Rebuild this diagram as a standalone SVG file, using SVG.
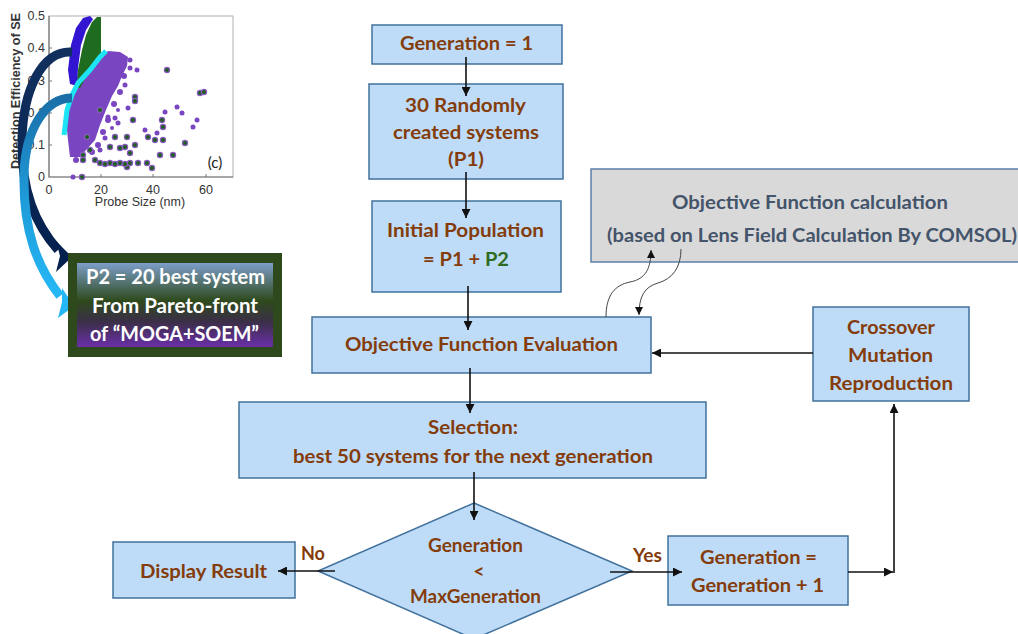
<svg xmlns="http://www.w3.org/2000/svg" width="1018" height="634" viewBox="0 0 1018 634">
<defs>
<style>
.box{fill:#bedcf7;stroke:#41719c;stroke-width:1.5}
.t{font-family:Lato,"Open Sans",sans-serif;font-weight:bold;font-size:19.5px;fill:#843c0c;text-anchor:middle}
.g{font-family:Lato,"Open Sans",sans-serif;font-weight:bold;font-size:18.5px;fill:#44546a;text-anchor:middle}
.w{font-family:Lato,"Open Sans",sans-serif;font-weight:bold;font-size:20px;fill:#ffffff;text-anchor:middle}
.ax{font-family:"Liberation Sans",Arial,sans-serif;font-size:12.5px;fill:#333}
.c{fill:none;stroke:#111;stroke-width:1.6}
.cc{fill:none;stroke:#444;stroke-width:1}
.dg{fill:#1e5e1e;stroke:#8a5cc0;stroke-width:1.2}
.pp{fill:#7a45c0}
</style>
<marker id="ah" viewBox="0 0 10 10" refX="10" refY="5" markerWidth="10" markerHeight="9" markerUnits="userSpaceOnUse" orient="auto"><path d="M0,0 L10,5 L0,10 z" fill="#111"/></marker>
<marker id="ahs" viewBox="0 0 10 10" refX="10" refY="5" markerWidth="8" markerHeight="8" markerUnits="userSpaceOnUse" orient="auto"><path d="M0,0 L10,5 L0,10 z" fill="#111"/></marker>
<linearGradient id="p2g" x1="0" y1="0" x2="0" y2="1">
<stop offset="0" stop-color="#7d9ec9"/><stop offset="0.45" stop-color="#2e4a1c"/><stop offset="0.7" stop-color="#3b2f48"/><stop offset="1" stop-color="#6a2fa8"/>
</linearGradient>
<linearGradient id="lbg" x1="0" y1="0" x2="0" y2="1">
<stop offset="0" stop-color="#1b6fa8"/><stop offset="0.5" stop-color="#1e9ad8"/><stop offset="1" stop-color="#26b8f6"/>
</linearGradient>
<linearGradient id="dbg" x1="0" y1="0" x2="0" y2="1">
<stop offset="0" stop-color="#12305e"/><stop offset="1" stop-color="#04204e"/>
</linearGradient>
</defs>

<g id="plot">
<rect x="49" y="16" width="184" height="161" fill="#fff" stroke="#b0b0b0" stroke-width="1"/>
<path d="M49,16 V177 H233" fill="none" stroke="#777" stroke-width="1.2"/>
<path d="M49,48 h3 M49,81 h3 M49,113 h3 M49,145 h3 M101,177 v-3 M153,177 v-3 M206,177 v-3" stroke="#777" stroke-width="1"/>
<polygon class="pp" points="68,140 66,120 71,97 84,80 99,60 108,51 120,52 128,57 127,66 122,76 118,86 112,96 106,110 100,125 95,140 86,150 80,157 70,157"/>
<g class="pp">
<circle cx="137" cy="70" r="2.5"/><circle cx="165" cy="112" r="2.5"/><circle cx="177" cy="107" r="2.5"/><circle cx="182" cy="113" r="2.5"/><circle cx="193" cy="127" r="2.5"/><circle cx="197" cy="120" r="2.5"/><circle cx="157" cy="133" r="2.5"/><circle cx="145" cy="130" r="2.5"/><circle cx="73" cy="177" r="2.5"/><circle cx="108" cy="117" r="2.5"/><circle cx="118" cy="123" r="2.5"/><circle cx="128" cy="108" r="2.5"/><circle cx="130" cy="68" r="2.5"/><circle cx="125" cy="85" r="2.5"/><circle cx="112" cy="128" r="2"/>
<circle cx="124" cy="76" r="3"/><circle cx="120" cy="92" r="3"/><circle cx="114" cy="104" r="3"/><circle cx="108" cy="120" r="3"/><circle cx="103" cy="132" r="3"/><circle cx="98" cy="145" r="3"/><circle cx="92" cy="152" r="3"/><circle cx="76" cy="160" r="3"/><circle cx="130" cy="60" r="2.5"/><circle cx="115" cy="118" r="2.5"/><circle cx="105" cy="138" r="2.5"/><circle cx="118" cy="110" r="2"/><circle cx="100" cy="150" r="2.5"/>
</g>
<polygon fill="#1f6b1f" points="76,88 78,70 82,50 86,35 92,22 97,17 101,17 101,53 90,70 80,88"/>
<polygon fill="#3115d0" points="70,84 68,70 71,45 76,28 83,18 90,16 93,19 86,30 81,45 78,68 77,86"/>
<polyline points="64,135 67,110 72,95 78,83 90,70 100,57 106,51" fill="none" stroke="#1de4f2" stroke-width="5" stroke-linejoin="round"/>
<g class="dg">
<circle cx="135" cy="97" r="2.6"/><circle cx="135" cy="101" r="2.6"/><circle cx="133" cy="120" r="2.6"/><circle cx="115" cy="137" r="2.6"/><circle cx="127" cy="137" r="2.6"/><circle cx="100" cy="110" r="2.6"/><circle cx="87" cy="137" r="2.6"/><circle cx="83" cy="155" r="2.6"/><circle cx="83" cy="160" r="2.6"/><circle cx="90" cy="150" r="2.6"/><circle cx="110" cy="147" r="2.6"/><circle cx="120" cy="148" r="2.6"/><circle cx="125" cy="147" r="2.6"/><circle cx="130" cy="153" r="2.6"/><circle cx="135" cy="145" r="2.6"/><circle cx="127" cy="167" r="2.6"/><circle cx="100" cy="163" r="2.6"/><circle cx="105" cy="164" r="2.6"/><circle cx="110" cy="163" r="2.6"/><circle cx="115" cy="164" r="2.6"/><circle cx="120" cy="163" r="2.6"/><circle cx="125" cy="164" r="2.6"/><circle cx="130" cy="163" r="2.6"/><circle cx="138" cy="163" r="2.6"/><circle cx="147" cy="163" r="2.6"/><circle cx="152" cy="168" r="2.6"/><circle cx="148" cy="137" r="2.6"/><circle cx="155" cy="140" r="2.6"/><circle cx="163" cy="140" r="2.6"/><circle cx="162" cy="120" r="2.6"/><circle cx="163" cy="127" r="2.6"/><circle cx="160" cy="155" r="2.6"/><circle cx="173" cy="155" r="2.6"/><circle cx="185" cy="143" r="2.6"/><circle cx="200" cy="93" r="2.6"/><circle cx="204" cy="92" r="2.6"/><circle cx="167" cy="70" r="2.6"/><circle cx="82" cy="177" r="2.6"/><circle cx="95" cy="160" r="2.6"/>
</g>
<text class="ax" x="45" y="20" text-anchor="end">0.5</text>
<text class="ax" x="45" y="52" text-anchor="end">0.4</text>
<text class="ax" x="45" y="85" text-anchor="end">0.3</text>
<text class="ax" x="45" y="117" text-anchor="end">0.2</text>
<text class="ax" x="45" y="149" text-anchor="end">0.1</text>
<text class="ax" x="45" y="181" text-anchor="end">0</text>
<text class="ax" x="49" y="194" text-anchor="middle">0</text>
<text class="ax" x="101" y="194" text-anchor="middle">20</text>
<text class="ax" x="153" y="194" text-anchor="middle">40</text>
<text class="ax" x="206" y="194" text-anchor="middle">60</text>
<text class="ax" x="140" y="206" text-anchor="middle" font-size="13.5">Probe Size (nm)</text>
<text class="ax" x="0" y="0" text-anchor="middle" font-weight="bold" font-size="11" fill="#222" transform="translate(20,91) rotate(-90)" textLength="156" lengthAdjust="spacingAndGlyphs">Detection Efficiency of SE</text>
<text x="215" y="168" text-anchor="middle" font-family="Lato,sans-serif" font-size="15" fill="#222">(c)</text>
</g>

<g id="big-arrows">
<path d="M72,52 C42,50 23,90 22,140 C21,192 36,225 58,250" fill="none" stroke="url(#dbg)" stroke-width="9"/>
<polygon points="56,241 72,257 56,272 60,256" fill="#04204e"/>
<path d="M72,98 C45,98 25,130 24,175 C23,232 38,268 60,296" fill="none" stroke="url(#lbg)" stroke-width="9"/>
<polygon points="62,288 74,306 58,318 62,302" fill="#26b8f6"/>
</g>

<g id="p2-box">
<rect x="68" y="253" width="214" height="104" fill="#2e4a1c"/>
<rect x="77" y="263" width="196" height="84" fill="url(#p2g)"/>
<text class="w" x="175.5" y="284" textLength="179" lengthAdjust="spacingAndGlyphs">P2 = 20 best system</text>
<text class="w" x="175" y="313" textLength="166" lengthAdjust="spacingAndGlyphs">From Pareto-front</text>
<text class="w" x="174.5" y="341" textLength="169" lengthAdjust="spacingAndGlyphs">of “MOGA+SOEM”</text>
</g>

<g id="gen1">
<rect class="box" x="372" y="25" width="190" height="39"/>
<text class="t" x="466.5" y="50" textLength="133" lengthAdjust="spacingAndGlyphs">Generation = 1</text>
</g>
<g id="random">
<rect class="box" x="369" y="84" width="194" height="95"/>
<text class="t" x="465.5" y="112" textLength="121" lengthAdjust="spacingAndGlyphs">30 Randomly</text>
<text class="t" x="466" y="139" textLength="146" lengthAdjust="spacingAndGlyphs">created systems</text>
<text class="t" x="466" y="166" textLength="36" lengthAdjust="spacingAndGlyphs">(P1)</text>
</g>
<g id="initpop">
<rect class="box" x="372" y="201" width="189" height="91"/>
<text class="t" x="465.5" y="237" textLength="157" lengthAdjust="spacingAndGlyphs">Initial Population</text>
<text class="t" x="466" y="266" textLength="86" lengthAdjust="spacingAndGlyphs">= P1 + <tspan fill="#2f6a1f">P2</tspan></text>
</g>
<g id="objcalc">
<rect x="591" y="169" width="434" height="93" fill="#d9d9d9" stroke="#5b80a8" stroke-width="1.5"/>
<text class="g" x="810" y="209" textLength="276" lengthAdjust="spacingAndGlyphs">Objective Function calculation</text>
<text class="g" x="812" y="242" textLength="410" lengthAdjust="spacingAndGlyphs">(based on Lens Field Calculation By COMSOL)</text>
</g>
<g id="objeval">
<rect class="box" x="312" y="317" width="339" height="56"/>
<text class="t" x="481.5" y="351" textLength="273" lengthAdjust="spacingAndGlyphs">Objective Function Evaluation</text>
</g>
<g id="crossover">
<rect class="box" x="813" y="307" width="156" height="94"/>
<text class="t" x="891" y="334" textLength="88" lengthAdjust="spacingAndGlyphs">Crossover</text>
<text class="t" x="890.5" y="362" textLength="85" lengthAdjust="spacingAndGlyphs">Mutation</text>
<text class="t" x="891" y="390" textLength="124" lengthAdjust="spacingAndGlyphs">Reproduction</text>
</g>
<g id="selection">
<rect class="box" x="239" y="402" width="467" height="76"/>
<text class="t" x="473" y="434" textLength="90" lengthAdjust="spacingAndGlyphs">Selection:</text>
<text class="t" x="473" y="463" textLength="360" lengthAdjust="spacingAndGlyphs">best 50 systems for the next generation</text>
</g>
<g id="decision">
<polygon class="box" points="474,503 632,571 474,639 318,571"/>
<text class="t" x="475.5" y="552" textLength="95" lengthAdjust="spacingAndGlyphs">Generation</text>
<text class="t" x="479" y="578">&lt;</text>
<text class="t" x="475.5" y="603" textLength="131" lengthAdjust="spacingAndGlyphs">MaxGeneration</text>
</g>
<g id="display">
<rect class="box" x="113" y="542" width="182" height="56"/>
<text class="t" x="203.5" y="578" textLength="127" lengthAdjust="spacingAndGlyphs">Display Result</text>
</g>
<g id="genplus">
<rect class="box" x="668" y="536" width="180" height="69"/>
<text class="t" x="758.5" y="564" textLength="117" lengthAdjust="spacingAndGlyphs">Generation =</text>
<text class="t" x="757.5" y="592" textLength="133" lengthAdjust="spacingAndGlyphs">Generation + 1</text>
</g>

<g id="connectors">
<path class="c" d="M466,57 V96" marker-end="url(#ah)"/>
<path class="c" d="M466,172 V218" marker-end="url(#ah)"/>
<path class="c" d="M468,286 V330" marker-end="url(#ah)"/>
<path class="c" d="M470,368 V413" marker-end="url(#ah)"/>
<path class="c" d="M474,472 V520" marker-end="url(#ah)"/>
<path class="c" d="M335,571 H278" marker-end="url(#ah)"/>
<path class="c" d="M610,572 H682" marker-end="url(#ah)"/>
<path class="c" d="M848,572 H893" marker-end="url(#ah)"/>
<path class="c" d="M894,573 V404" marker-end="url(#ah)"/>
<path class="c" d="M813,353 H652" marker-end="url(#ah)"/>
<path class="cc" d="M606,317 C606,295 615,285 630,282 C646,279 651,268 651,250" marker-end="url(#ahs)"/>
<path class="cc" d="M681,249 C681,268 672,279 658,283 C644,287 639,297 639,315" marker-end="url(#ahs)"/>
<text class="t" x="313" y="560" textLength="24" lengthAdjust="spacingAndGlyphs">No</text>
<text class="t" x="647.5" y="562" textLength="29" lengthAdjust="spacingAndGlyphs">Yes</text>
</g>
</svg>
